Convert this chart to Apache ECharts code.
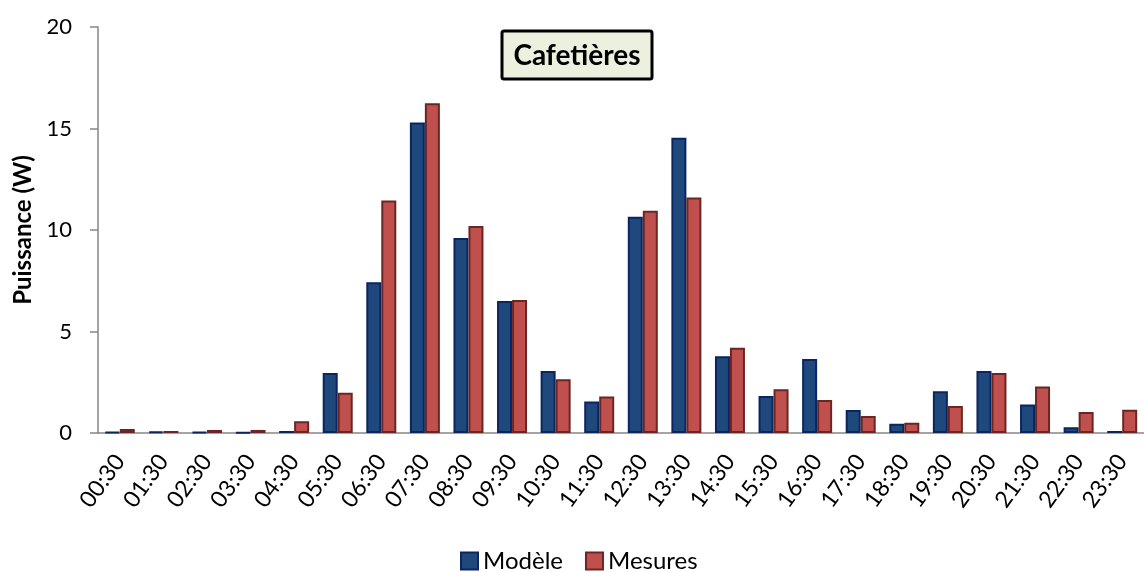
<!DOCTYPE html>
<html>
<head>
<meta charset="utf-8">
<script src="https://cdn.jsdelivr.net/npm/echarts@6/dist/echarts.min.js"></script>
<style>
  html, body { margin: 0; padding: 0; background: #fff; }
  #chart { width: 1144px; height: 572px; }
</style>
</head>
<body>
<div id="chart"></div>
<script>
// heures (demi-heures)
var hours = ['00:30', '01:30', '02:30', '03:30', '04:30', '05:30', '06:30', '07:30',
  '08:30', '09:30', '10:30', '11:30', '12:30', '13:30', '14:30', '15:30',
  '16:30', '17:30', '18:30', '19:30', '20:30', '21:30', '22:30', '23:30'];

var modele = [0.05, 0.08, 0.05, 0.03, 0.1, 2.96, 7.43, 15.3, 9.6, 6.5, 3.05, 1.55,
  10.65, 14.55, 3.78, 1.82, 3.64, 1.13, 0.46, 2.06, 3.06, 1.41, 0.28, 0.1];

var mesures = [0.2, 0.1, 0.15, 0.15, 0.58, 1.98, 11.45, 16.25, 10.2, 6.55, 2.65, 1.8,
  10.95, 11.6, 4.2, 2.15, 1.62, 0.84, 0.51, 1.33, 2.95, 2.29, 1.03, 1.15];

var yTicks = [0, 5, 10, 15, 20];

var font = 'Lato, "Open Sans", sans-serif';
var chart = echarts.init(document.getElementById('chart'));

var option = {
  animation: false,
  textStyle: { fontFamily: font },
  grid: { left: 98, right: -8, top: 27, bottom: 139, containLabel: false },
  graphic: [
    {
      type: 'rect',
      shape: { x: 502, y: 31, width: 150, height: 48, r: 2 },
      style: { fill: '#ebf1de', stroke: '#000', lineWidth: 3 }
    },
    {
      type: 'text',
      x: 577, y: 56,
      style: {
        text: 'Cafetières', fill: '#000', font: 'bold 28px ' + font,
        align: 'center', verticalAlign: 'middle'
      }
    }
  ],
  legend: {
    data: ['Modèle', 'Mesures'],
    left: 460, top: 549, padding: 0,
    itemWidth: 17, itemHeight: 17, itemGap: 22,
    icon: 'rect',
    textStyle: { fontSize: 24, color: '#000', fontFamily: font }
  },
  xAxis: {
    type: 'category',
    data: hours,
    axisLine: { lineStyle: { color: '#868686', width: 1.5 } },
    axisTick: { length: 8, lineStyle: { color: '#868686', width: 1.5 } },
    axisLabel: { rotate: 54, fontSize: 23, color: '#000', margin: 24, fontFamily: font, interval: 0 }
  },
  yAxis: {
    type: 'value',
    min: yTicks[0], max: yTicks[yTicks.length - 1], interval: 5,
    name: 'Puissance (W)',
    nameLocation: 'middle',
    nameGap: 61,
    nameTextStyle: { fontSize: 24, fontWeight: 'bold', color: '#000', fontFamily: font },
    splitLine: { show: false },
    axisLine: { show: true, lineStyle: { color: '#868686', width: 1.5 } },
    axisTick: { show: true, length: 8, lineStyle: { color: '#868686', width: 1.5 } },
    axisLabel: { fontSize: 22, color: '#000', margin: 26, fontFamily: font }
  },
  series: [
    {
      name: 'Modèle',
      type: 'bar',
      data: modele,
      barWidth: 15,
      barGap: '0%',
      itemStyle: { color: '#1f497d', borderColor: '#0a2560', borderWidth: 2 }
    },
    {
      name: 'Mesures',
      type: 'bar',
      data: mesures,
      barWidth: 15,
      itemStyle: { color: '#c0504d', borderColor: '#6b2624', borderWidth: 2 }
    }
  ]
};

chart.setOption(option);
</script>
</body>
</html>
